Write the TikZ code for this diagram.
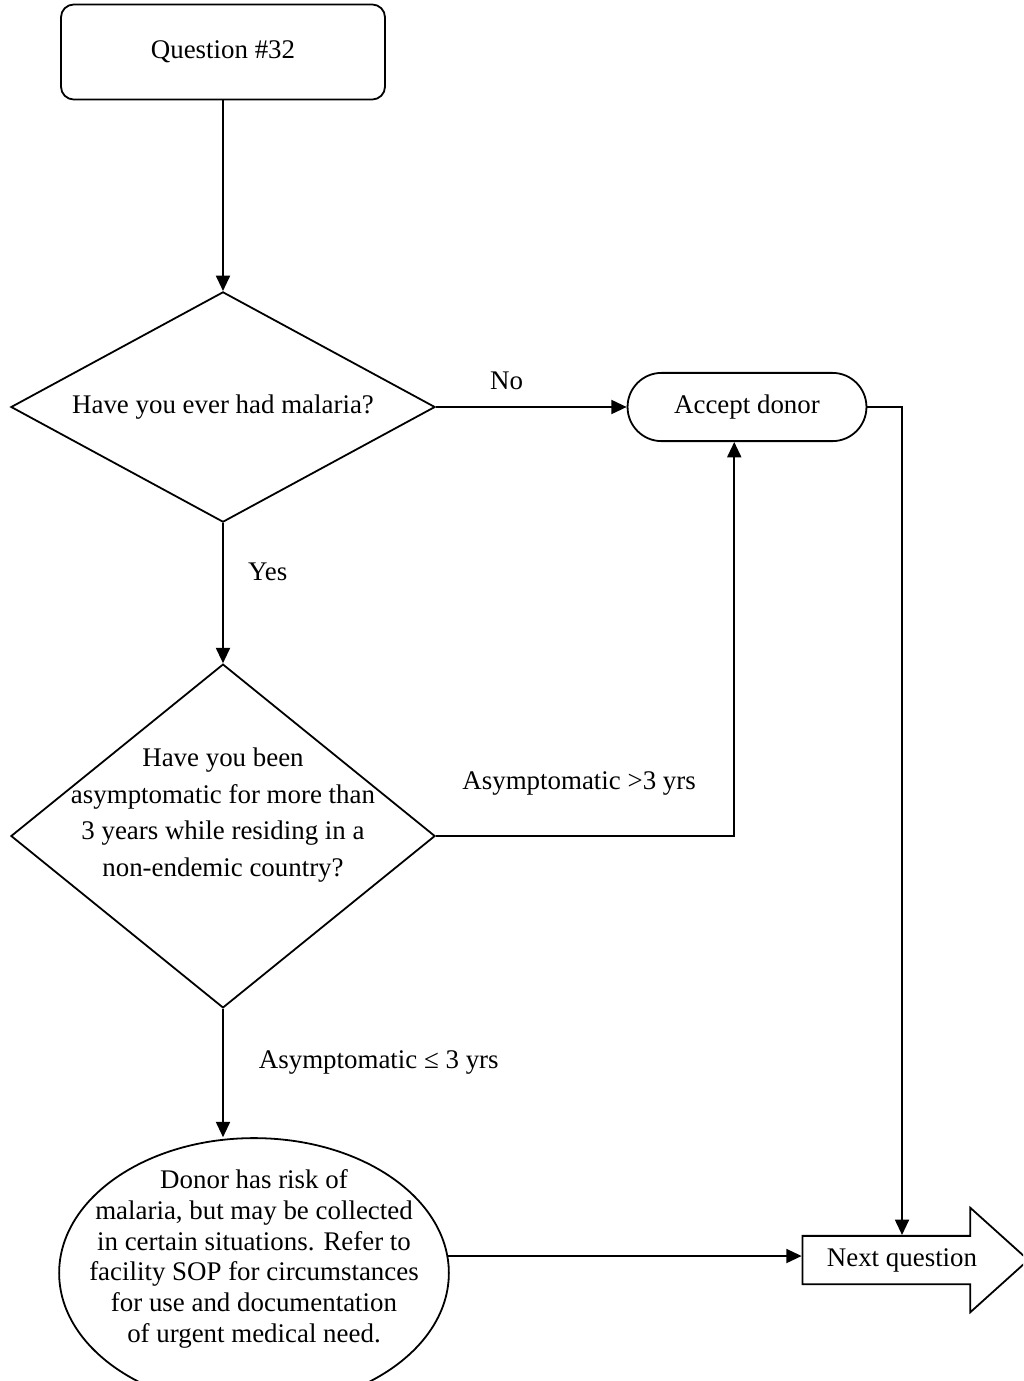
\documentclass[tikz,border=0pt]{standalone}
\usepackage{fontspec}
\setmainfont{Liberation Serif}
\usepackage{tikz}
\usetikzlibrary{arrows.meta,positioning,shapes.geometric,shapes.misc,shapes.arrows}
\tikzset{
  startbox/.style={rectangle,rounded corners=2mm,draw,line width=0.8pt,
    minimum width=50.8mm,minimum height=14.9mm},
  decision/.style={diamond,draw,line width=0.8pt,aspect=1.84,inner sep=0pt,
    align=center},
  stadium/.style={rounded rectangle,draw,line width=0.8pt,
    minimum width=39.8mm,minimum height=10.7mm},
  riskoval/.style={ellipse,draw,line width=0.8pt,
    minimum width=61.1mm,minimum height=42.3mm},
  nextarrow/.style={single arrow,draw,line width=0.8pt,minimum height=35.4mm,
    minimum width=16.3mm,single arrow head extend=4.4mm,
    single arrow tip angle=84,inner ysep=1.8mm},
  link/.style={-{Triangle[length=2.4mm,width=2.2mm]},line width=0.8pt},
  lbl/.style={inner sep=0pt}
}
\begin{document}
\begin{tikzpicture}[x=0.15678mm,y=-0.15678mm,font=\fontsize{12}{13.8}\selectfont]
\path[use as bounding box,clip] (0,0) rectangle (1023,1381);
% boxes
\node[startbox] (q32) at (223,52) {Question \#32};
\node[decision,minimum width=66.5mm,minimum height=36.1mm] (had) at (223,407)
  {Have you ever had malaria?};
\node[decision,minimum width=66.5mm,minimum height=53.9mm] (asym) at (223,836) {};
\node[align=center,font=\fontsize{12}{16.3}\selectfont] (asymtxt) at (223,815)
  {Have you been\\asymptomatic for more than\\3 years while residing in a\\non-endemic country?};
\node[stadium] (accept) at (747,407) {Accept donor};
\node[riskoval] (risk) at (254,1273) {};
\node[align=center,font=\fontsize{12}{13.7}\selectfont] (risktxt) at (254,1259)
  {Donor has risk of\\malaria, but may be collected\\in certain situations. Refer to\\facility SOP for circumstances\\for use and documentation\\of urgent medical need.};
\node[nextarrow] (next) at (902,1260) {Next question};
% connectors
\draw[link] (q32.south) -- (had.north);
\draw[link] (had.east) -- node[lbl,pos=.37,yshift=4.1mm] {No} (accept.west);
\draw[link] (had.south) -- node[lbl,pos=.35,xshift=7mm] {Yes} (asym.north);
\draw[link] (asym.east) -| node[lbl,pos=.24,yshift=8.3mm] {Asymptomatic >3 yrs}
  ([xshift=-2mm]accept.south);
\draw[link] (asym.south) -- node[lbl,pos=.42,anchor=west,xshift=5.5mm] {Asymptomatic ≤ 3 yrs}
  (asym.south |- risk.north);
\draw[link] (accept.east) -| (next.north);
\draw[link] (risk.5) -- (risk.5 -| next.west);
\end{tikzpicture}
\end{document}
